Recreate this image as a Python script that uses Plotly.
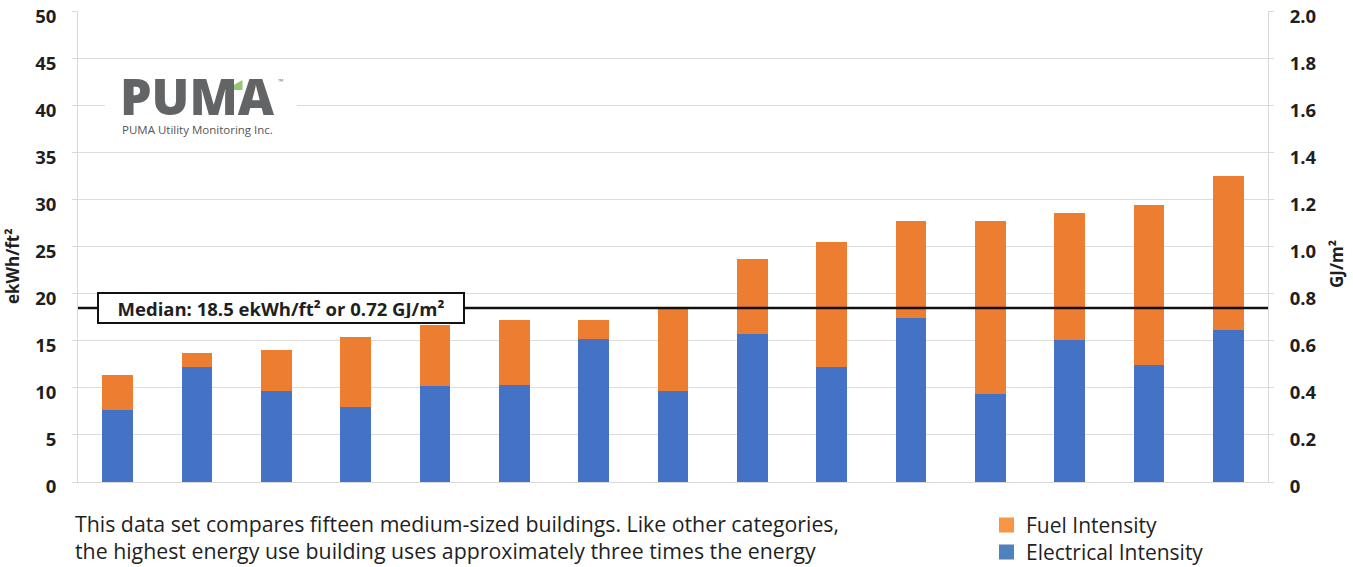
import plotly.graph_objects as go

# Fifteen medium-sized buildings, energy use intensity (ekWh/ft²)
buildings = [f"B{i}" for i in range(1, 16)]
electrical = [7.6, 12.2, 9.7, 8.0, 10.2, 10.3, 15.2, 9.7, 15.7, 12.2, 17.4, 9.3, 15.1, 12.4, 16.1]
fuel = [3.8, 1.5, 4.3, 7.4, 6.5, 6.9, 2.0, 8.7, 8.0, 13.3, 10.3, 18.4, 13.5, 17.0, 16.4]
median_ekwh = 18.5
median_gj = 0.72

left_ticks = [0, 5, 10, 15, 20, 25, 30, 35, 40, 45, 50]
right_ticks = [0, 0.2, 0.4, 0.6, 0.8, 1.0, 1.2, 1.4, 1.6, 1.8, 2.0]
right_tick_text = ["0", "0.2", "0.4", "0.6", "0.8", "1.0", "1.2", "1.4", "1.6", "1.8", "2.0"]

W, H = 1353, 567
L, R, T, B = 78, 1268, 11, 482  # plot area in pixels


def px(x):
    return (x - L) / (R - L)


def py(y):
    return (B - y) / (B - T)


BLUE = "#4472C4"
ORANGE = "#ED7D31"
FONT = "Open Sans"
TXT = "#1f1f1f"

fig = go.Figure()
fig.add_trace(go.Bar(x=buildings, y=electrical, name="Electrical Intensity",
                     marker=dict(color=BLUE, line=dict(width=0)), showlegend=False))
fig.add_trace(go.Bar(x=buildings, y=fuel, name="Fuel Intensity",
                     marker=dict(color=ORANGE, line=dict(width=0)), showlegend=False))
# keeps the secondary GJ/m² axis drawn
fig.add_trace(go.Scatter(x=[buildings[0]], y=[0], yaxis="y2", mode="markers",
                         marker=dict(opacity=0), showlegend=False, hoverinfo="skip"))

tick_font = dict(family=FONT, size=18.5, color=TXT, weight="bold")

fig.update_layout(
    width=W, height=H,
    margin=dict(l=L, r=W - R, t=T, b=H - B, autoexpand=False),
    paper_bgcolor="white", plot_bgcolor="white",
    barmode="stack", bargap=0.61,
    xaxis=dict(range=[-0.5, len(buildings) - 0.5], showticklabels=False,
               showgrid=False, showline=True, automargin=False,
               linecolor="#D9D9D9", linewidth=1, ticks=""),
    yaxis=dict(range=[0, 50.05], tickvals=left_ticks, showgrid=True,
               gridcolor="#DCDCDC", gridwidth=1, zeroline=False,
               showline=True, linecolor="#D9D9D9", linewidth=1, automargin=False,
               ticks="outside", ticklen=5, tickcolor="#D9D9D9",
               ticklabelstandoff=12, ticklabelshift=5, ticklabeloverflow="allow",
               tickfont=tick_font),
    yaxis2=dict(range=[0, 2.002], overlaying="y", side="right",
                tickvals=right_ticks, ticktext=right_tick_text,
                showgrid=False, zeroline=False, automargin=False,
                showline=True, linecolor="#D9D9D9", linewidth=1,
                ticks="outside", ticklen=5, tickcolor="#D9D9D9",
                ticklabelstandoff=12, ticklabelshift=5, ticklabeloverflow="allow",
                tickfont=tick_font),
    showlegend=False,
)

shapes = []
annotations = []

# median reference line
shapes.append(dict(type="line", xref="paper", yref="y", x0=0, x1=1,
                   y0=median_ekwh, y1=median_ekwh,
                   line=dict(color="#111111", width=2.5), layer="above"))
annotations.append(dict(
    xref="paper", yref="y", x=px(281), y=median_ekwh, showarrow=False,
    text=f"Median: {median_ekwh} ekWh/ft² or {median_gj} GJ/m²",
    font=dict(family=FONT, size=18.5, color=TXT, weight="bold"),
    bgcolor="white", bordercolor="#111111", borderwidth=2, borderpad=4,
    width=356, height=20, xanchor="center", yanchor="middle"))

# axis titles
annotations.append(dict(xref="paper", yref="paper", x=px(12), y=py(266),
                        text="ekWh/ft²", textangle=-90, showarrow=False,
                        font=dict(family=FONT, size=17, color=TXT, weight="bold"),
                        xanchor="center", yanchor="middle"))
annotations.append(dict(xref="paper", yref="paper", x=px(1336), y=py(264),
                        text="GJ/m²", textangle=-90, showarrow=False,
                        font=dict(family=FONT, size=17, color=TXT, weight="bold"),
                        xanchor="center", yanchor="middle"))

# logo block
shapes.append(dict(type="rect", xref="paper", yref="paper",
                   x0=px(105), x1=px(297), y0=py(142), y1=py(70),
                   fillcolor="white", line=dict(width=0), layer="above"))
annotations.append(dict(xref="paper", yref="paper", x=px(197), y=py(96),
                        text="PUMA", showarrow=False, height=42,
                        font=dict(family=FONT, size=50, color="#636466", weight=800),
                        xanchor="center", yanchor="middle"))
shapes.append(dict(type="path", xref="paper", yref="paper",
                   path=f"M {px(225)},{py(90)} L {px(242.5)},{py(80)} L {px(242.5)},{py(90)} Z",
                   fillcolor="#93C572", line=dict(width=0), layer="above"))
annotations.append(dict(xref="paper", yref="paper", x=px(280), y=py(82),
                        text="™", showarrow=False,
                        font=dict(family=FONT, size=7, color="#777777"),
                        xanchor="center", yanchor="middle"))
annotations.append(dict(xref="paper", yref="paper", x=px(197), y=py(129),
                        text="PUMA Utility Monitoring Inc.", showarrow=False,
                        font=dict(family=FONT, size=11.5, color="#555555"),
                        xanchor="center", yanchor="middle"))

# caption below the chart
caption = ["This data set compares fifteen medium-sized buildings. Like other categories,",
           "the highest energy use building uses approximately three times the energy"]
for line, yy in zip(caption, [523, 550]):
    annotations.append(dict(xref="paper", yref="paper", x=px(73), y=py(yy),
                            text=line, showarrow=False, align="left",
                            font=dict(family=FONT, size=21.3, color=TXT),
                            xanchor="left", yanchor="middle"))

# legend
legend_items = [("Fuel Intensity", "#F79646", 525), ("Electrical Intensity", "#4F81BD", 552)]
for label, col, yy in legend_items:
    shapes.append(dict(type="rect", xref="paper", yref="paper",
                       x0=px(999), x1=px(1014), y0=py(yy + 7.5), y1=py(yy - 7.5),
                       fillcolor=col, line=dict(width=0)))
    annotations.append(dict(xref="paper", yref="paper", x=px(1024), y=py(yy),
                            text=label, showarrow=False,
                            font=dict(family=FONT, size=21, color=TXT),
                            xanchor="left", yanchor="middle"))

fig.update_layout(shapes=shapes, annotations=annotations)
fig.write_html("out.html")
